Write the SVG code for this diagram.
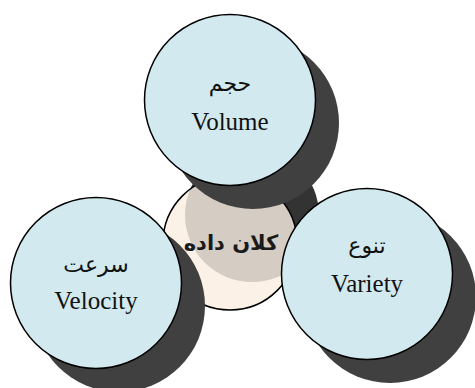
<svg xmlns="http://www.w3.org/2000/svg" width="475" height="388" viewBox="0 0 475 388">
<style>
.face{fill:#D2E9EF;stroke:#000;stroke-width:1.5}
.shadow{fill:#404040}
.ar{font-family:"DejaVu Serif","Liberation Serif","DejaVu Sans",serif;font-size:22px;fill:#111;text-anchor:middle}
.en{font-family:"Liberation Serif","Times New Roman",serif;font-size:25px;fill:#111;text-anchor:middle}
.ct{font-family:"DejaVu Sans","Liberation Sans",sans-serif;font-weight:bold;font-size:21px;fill:#1a1a1a;text-anchor:middle}
</style>
<defs>
<clipPath id="cc"><circle cx="230" cy="243" r="67"/></clipPath>
</defs>
<rect width="475" height="388" fill="#fff"/>
<g id="center">
<circle cx="252" cy="215" r="67" fill="#333"/>
<circle cx="230" cy="243" r="67" fill="#FBF1E7"/>
<circle cx="252" cy="215" r="67" fill="#D5CCC3" clip-path="url(#cc)"/>
<circle cx="230" cy="243" r="67" fill="none" stroke="#000" stroke-width="1.5"/>
<text class="ct" x="231" y="250" direction="rtl">كلان داده</text>
</g>
<g id="volume">
<circle class="shadow" cx="253" cy="123" r="86"/>
<circle class="face" cx="230" cy="100" r="85.5"/>
<text class="ar" x="230" y="91" direction="rtl">حجم</text>
<text class="en" x="230" y="130">Volume</text>
</g>
<g id="velocity">
<circle class="shadow" cx="119" cy="306" r="86"/>
<circle class="face" cx="96" cy="283" r="85.5"/>
<text class="ar" x="96" y="272" direction="rtl">سرعت</text>
<text class="en" x="96" y="309">Velocity</text>
</g>
<g id="variety">
<circle class="shadow" cx="390" cy="297" r="86"/>
<circle class="face" cx="367" cy="274" r="85.5"/>
<text class="ar" x="367" y="253" direction="rtl">تنوع</text>
<text class="en" x="367" y="292">Variety</text>
</g>
<g id="connectors"/>
</svg>
